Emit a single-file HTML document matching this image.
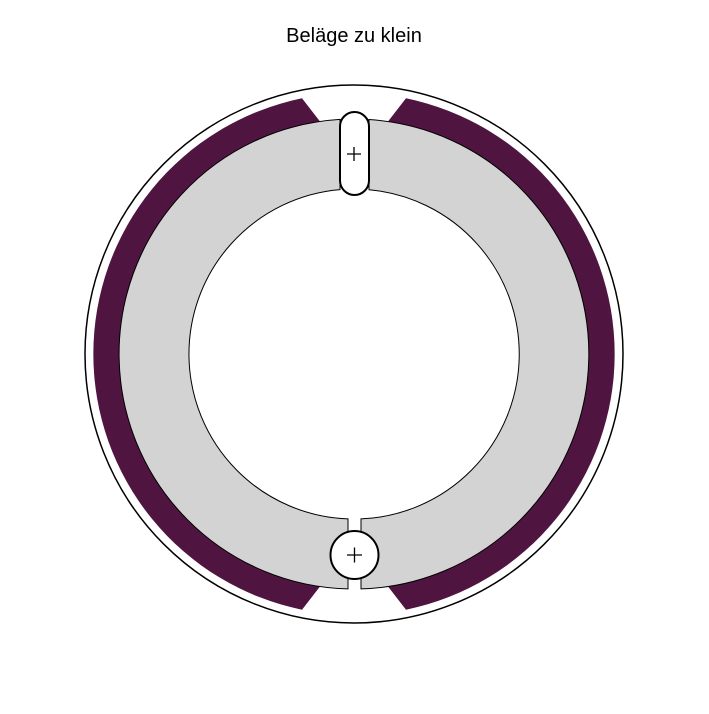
<!DOCTYPE html>
<html><head><style>body{margin:0;background:#fff}</style></head><body>
<svg width="709" height="709" viewBox="0 0 709 709" xmlns="http://www.w3.org/2000/svg">
<text x="354" y="42" text-anchor="middle" font-family="Liberation Sans, sans-serif" font-size="20" fill="#000">Beläge zu klein</text>
<circle cx="354" cy="354" r="269" fill="#fff" stroke="#000" stroke-width="1.5"/>
<path d="M302,98.3 A261 261 0 0 0 302,609.7 L320,586.5 A235 235 0 0 1 320,121.5 Z" fill="#4f1540"/>
<path d="M406,98.3 A261 261 0 0 1 406,609.7 L388,586.5 A235 235 0 0 0 388,121.5 Z" fill="#4f1540"/>
<path d="M340,119.4 A235 235 0 0 0 348,588.9 L348,518.9 A165 165 0 0 1 340,189.6 Z" fill="#d3d3d3" stroke="#000" stroke-width="1"/>
<path d="M369,119.5 A235 235 0 0 1 361,588.9 L361,518.9 A165 165 0 0 0 369,189.7 Z" fill="#d3d3d3" stroke="#000" stroke-width="1"/>
<rect x="340" y="112" width="29" height="83" rx="14.5" fill="#fff" stroke="#000" stroke-width="2"/>
<path d="M347,154 h14 M354,147 v14" stroke="#000" stroke-width="1.3"/>
<circle cx="354.5" cy="555" r="24" fill="#fff" stroke="#000" stroke-width="2"/>
<path d="M347,555 h15 M354.5,547.5 v15" stroke="#000" stroke-width="1.3"/>
</svg>
</body></html>
